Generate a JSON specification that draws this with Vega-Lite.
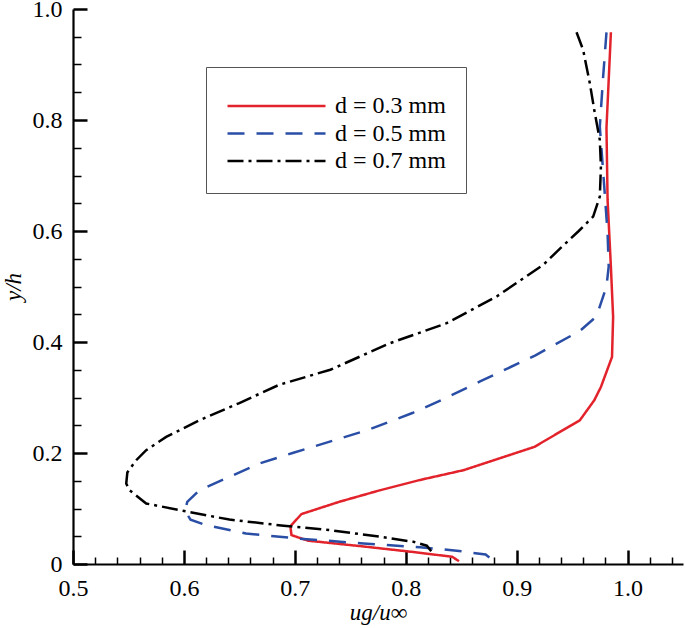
{
  "$schema": "https://vega.github.io/schema/vega-lite/v6.json",
  "width": 610,
  "height": 555,
  "autosize": {"type": "none"},
  "padding": {"left": 73, "top": 9, "right": 2, "bottom": 64},
  "config": {
    "view": {"stroke": null},
    "font": "Liberation Serif",
    "axis": {"grid": false, "labelFlush": false, "labelOverlap": false, "domainColor": "#000", "domainWidth": 2.2, "tickColor": "#000", "labelColor": "#000", "titleColor": "#000", "labelFont": "Liberation Serif", "titleFont": "Liberation Serif", "labelFontSize": 24, "titleFontSize": 23, "titleFontWeight": "normal", "titleFontStyle": "italic"}
  },
  "data": {"values": [
    {"s": "d = 0.3 mm", "x": 0.985, "y": 0.958},
    {"s": "d = 0.3 mm", "x": 0.981, "y": 0.786},
    {"s": "d = 0.3 mm", "x": 0.982, "y": 0.656},
    {"s": "d = 0.3 mm", "x": 0.985, "y": 0.535},
    {"s": "d = 0.3 mm", "x": 0.987, "y": 0.445},
    {"s": "d = 0.3 mm", "x": 0.986, "y": 0.373},
    {"s": "d = 0.3 mm", "x": 0.976, "y": 0.319},
    {"s": "d = 0.3 mm", "x": 0.970, "y": 0.295},
    {"s": "d = 0.3 mm", "x": 0.957, "y": 0.259},
    {"s": "d = 0.3 mm", "x": 0.916, "y": 0.211},
    {"s": "d = 0.3 mm", "x": 0.852, "y": 0.169},
    {"s": "d = 0.3 mm", "x": 0.812, "y": 0.151},
    {"s": "d = 0.3 mm", "x": 0.777, "y": 0.133},
    {"s": "d = 0.3 mm", "x": 0.740, "y": 0.112},
    {"s": "d = 0.3 mm", "x": 0.706, "y": 0.090},
    {"s": "d = 0.3 mm", "x": 0.696, "y": 0.068},
    {"s": "d = 0.3 mm", "x": 0.697, "y": 0.052},
    {"s": "d = 0.3 mm", "x": 0.712, "y": 0.042},
    {"s": "d = 0.3 mm", "x": 0.760, "y": 0.032},
    {"s": "d = 0.3 mm", "x": 0.805, "y": 0.022},
    {"s": "d = 0.3 mm", "x": 0.842, "y": 0.013},
    {"s": "d = 0.3 mm", "x": 0.848, "y": 0.005},
    {"s": "d = 0.5 mm", "x": 0.981, "y": 0.958},
    {"s": "d = 0.5 mm", "x": 0.978, "y": 0.878},
    {"s": "d = 0.5 mm", "x": 0.975, "y": 0.788},
    {"s": "d = 0.5 mm", "x": 0.977, "y": 0.734},
    {"s": "d = 0.5 mm", "x": 0.979, "y": 0.680},
    {"s": "d = 0.5 mm", "x": 0.982, "y": 0.596},
    {"s": "d = 0.5 mm", "x": 0.983, "y": 0.536},
    {"s": "d = 0.5 mm", "x": 0.981, "y": 0.500},
    {"s": "d = 0.5 mm", "x": 0.972, "y": 0.446},
    {"s": "d = 0.5 mm", "x": 0.957, "y": 0.420},
    {"s": "d = 0.5 mm", "x": 0.917, "y": 0.376},
    {"s": "d = 0.5 mm", "x": 0.867, "y": 0.329},
    {"s": "d = 0.5 mm", "x": 0.834, "y": 0.297},
    {"s": "d = 0.5 mm", "x": 0.806, "y": 0.272},
    {"s": "d = 0.5 mm", "x": 0.765, "y": 0.241},
    {"s": "d = 0.5 mm", "x": 0.698, "y": 0.200},
    {"s": "d = 0.5 mm", "x": 0.668, "y": 0.181},
    {"s": "d = 0.5 mm", "x": 0.641, "y": 0.157},
    {"s": "d = 0.5 mm", "x": 0.614, "y": 0.133},
    {"s": "d = 0.5 mm", "x": 0.603, "y": 0.112},
    {"s": "d = 0.5 mm", "x": 0.601, "y": 0.095},
    {"s": "d = 0.5 mm", "x": 0.606, "y": 0.080},
    {"s": "d = 0.5 mm", "x": 0.620, "y": 0.070},
    {"s": "d = 0.5 mm", "x": 0.656, "y": 0.055},
    {"s": "d = 0.5 mm", "x": 0.702, "y": 0.046},
    {"s": "d = 0.5 mm", "x": 0.762, "y": 0.037},
    {"s": "d = 0.5 mm", "x": 0.813, "y": 0.030},
    {"s": "d = 0.5 mm", "x": 0.846, "y": 0.024},
    {"s": "d = 0.5 mm", "x": 0.872, "y": 0.017},
    {"s": "d = 0.5 mm", "x": 0.880, "y": 0.005},
    {"s": "d = 0.7 mm", "x": 0.954, "y": 0.958},
    {"s": "d = 0.7 mm", "x": 0.960, "y": 0.926},
    {"s": "d = 0.7 mm", "x": 0.966, "y": 0.866},
    {"s": "d = 0.7 mm", "x": 0.970, "y": 0.818},
    {"s": "d = 0.7 mm", "x": 0.975, "y": 0.764},
    {"s": "d = 0.7 mm", "x": 0.976, "y": 0.716},
    {"s": "d = 0.7 mm", "x": 0.975, "y": 0.662},
    {"s": "d = 0.7 mm", "x": 0.969, "y": 0.626},
    {"s": "d = 0.7 mm", "x": 0.956, "y": 0.600},
    {"s": "d = 0.7 mm", "x": 0.940, "y": 0.570},
    {"s": "d = 0.7 mm", "x": 0.924, "y": 0.539},
    {"s": "d = 0.7 mm", "x": 0.882, "y": 0.482},
    {"s": "d = 0.7 mm", "x": 0.837, "y": 0.434},
    {"s": "d = 0.7 mm", "x": 0.786, "y": 0.398},
    {"s": "d = 0.7 mm", "x": 0.732, "y": 0.350},
    {"s": "d = 0.7 mm", "x": 0.686, "y": 0.323},
    {"s": "d = 0.7 mm", "x": 0.650, "y": 0.290},
    {"s": "d = 0.7 mm", "x": 0.614, "y": 0.259},
    {"s": "d = 0.7 mm", "x": 0.596, "y": 0.241},
    {"s": "d = 0.7 mm", "x": 0.584, "y": 0.229},
    {"s": "d = 0.7 mm", "x": 0.566, "y": 0.205},
    {"s": "d = 0.7 mm", "x": 0.557, "y": 0.187},
    {"s": "d = 0.7 mm", "x": 0.549, "y": 0.165},
    {"s": "d = 0.7 mm", "x": 0.548, "y": 0.145},
    {"s": "d = 0.7 mm", "x": 0.551, "y": 0.133},
    {"s": "d = 0.7 mm", "x": 0.566, "y": 0.109},
    {"s": "d = 0.7 mm", "x": 0.599, "y": 0.096},
    {"s": "d = 0.7 mm", "x": 0.641, "y": 0.080},
    {"s": "d = 0.7 mm", "x": 0.690, "y": 0.069},
    {"s": "d = 0.7 mm", "x": 0.732, "y": 0.061},
    {"s": "d = 0.7 mm", "x": 0.777, "y": 0.049},
    {"s": "d = 0.7 mm", "x": 0.807, "y": 0.040},
    {"s": "d = 0.7 mm", "x": 0.819, "y": 0.033},
    {"s": "d = 0.7 mm", "x": 0.823, "y": 0.023}
  ]},
  "resolve": {"axis": {"x": "independent", "y": "independent"}},
  "layer": [
    {
      "mark": {"type": "point", "opacity": 0},
      "encoding": {
        "x": {"field": "x", "type": "quantitative", "scale": {"domain": [0.5, 1.05], "nice": false, "zero": false},
          "axis": {"orient": "bottom", "values": [0.52,0.54,0.56,0.58,0.62,0.64,0.66,0.68,0.72,0.74,0.76,0.78,0.82,0.84,0.86,0.88,0.92,0.94,0.96,0.98,1.02,1.04], "labels": false, "domain": false, "tickSize": -7, "tickWidth": 1.5, "title": null}},
        "y": {"field": "y", "type": "quantitative", "scale": {"domain": [0, 1], "nice": false},
          "axis": {"orient": "left", "values": [0.05,0.1,0.15,0.25,0.3,0.35,0.45,0.5,0.55,0.65,0.7,0.75,0.85,0.9,0.95], "labels": false, "domain": false, "tickSize": -8, "tickWidth": 1.5, "title": null}}
      }
    },
    {
      "mark": {"type": "line", "strokeWidth": 2.5, "clip": false},
      "encoding": {
        "x": {"field": "x", "type": "quantitative", "scale": {"domain": [0.5, 1.05], "nice": false, "zero": false},
          "axis": {"orient": "bottom", "values": [0.5, 0.6, 0.7, 0.8, 0.9, 1.0], "format": ".1f", "labelFontSize": 24, "labelFont": "Liberation Serif", "labelFlush": false, "tickSize": -14, "tickWidth": 2.5, "labelPadding": 26, "title": "ug/u∞", "titleFontSize": 23, "titlePadding": 1}},
        "y": {"field": "y", "type": "quantitative", "scale": {"domain": [0, 1], "nice": false},
          "axis": {"orient": "left", "values": [0, 0.2, 0.4, 0.6, 0.8, 1.0], "labelExpr": "datum.value == 0 ? '0' : format(datum.value, '.1f')", "labelFontSize": 24, "labelFont": "Liberation Serif", "labelFlush": false, "tickSize": -14, "tickWidth": 2.5, "labelPadding": 25, "title": "y/h", "titleFontSize": 23, "titlePadding": 7}},
        "color": {"field": "s", "type": "nominal", "scale": {"range": ["#e3232c", "#2a4ea6", "#000000"]},
          "legend": {"orient": "none", "legendX": 133, "legendY": 58, "title": "\u00a0", "titleFontSize": 8, "titlePadding": 0, "strokeColor": "#555", "fillColor": "#fff", "padding": 20, "symbolType": "stroke", "symbolSize": 9604, "symbolStrokeWidth": 2.5, "clipHeight": 22, "labelFont": "Liberation Serif", "labelFontSize": 24, "labelColor": "#000", "rowPadding": 3.5, "labelOffset": 8}},
        "strokeDash": {"field": "s", "type": "nominal", "scale": {"range": [[1, 0], [17, 12], [16, 5, 3, 5]]}},
        "order": {"field": "y", "type": "quantitative", "sort": "descending"}
      }
    }
  ]
}
